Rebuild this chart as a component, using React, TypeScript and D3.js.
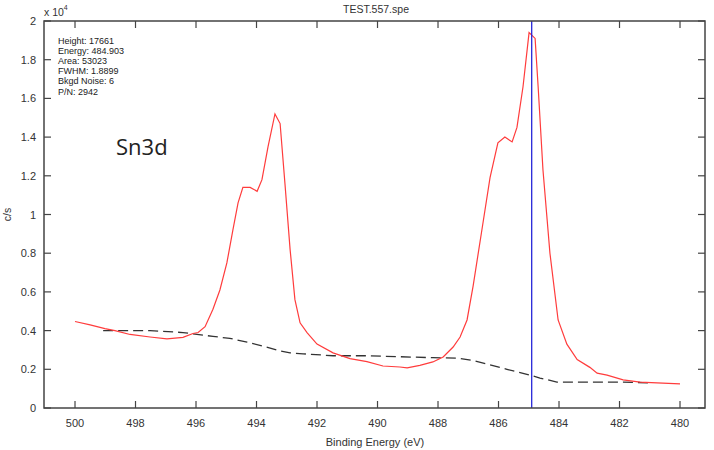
import React from "react";
import * as d3 from "d3";

const redEnergy = [500.0, 499.5, 499.01, 498.68, 498.18, 497.52, 496.96, 496.43, 496.1, 495.93, 495.7, 495.44, 495.21, 494.98, 494.78, 494.61, 494.45, 494.21, 493.98, 493.82, 493.62, 493.39, 493.22, 493.06, 492.89, 492.73, 492.56, 492.33, 492.0, 491.47, 490.91, 490.35, 489.82, 489.26, 489.02, 488.6, 488.17, 487.83, 487.5, 487.27, 487.04, 486.84, 486.55, 486.28, 486.02, 485.79, 485.55, 485.39, 485.19, 484.99, 484.79, 484.69, 484.53, 484.3, 484.03, 483.74, 483.4, 482.98, 482.74, 482.41, 481.88, 481.32, 480.76, 480.0];
const redCounts = [4470, 4300, 4100, 4000, 3800, 3670, 3570, 3650, 3850, 3900, 4200, 5100, 6100, 7500, 9200, 10600, 11400, 11400, 11200, 11800, 13500, 15200, 14700, 11600, 8200, 5600, 4400, 3900, 3300, 2850, 2550, 2400, 2170, 2120, 2070, 2200, 2380, 2640, 3150, 3670, 4550, 6300, 9200, 11900, 13700, 14000, 13750, 14500, 16600, 19400, 19100, 16600, 12300, 8000, 4550, 3300, 2500, 2100, 1800, 1700, 1450, 1340, 1300, 1250];

const bgEnergy = [499.07, 497.52, 496.43, 495.44, 494.88, 494.31, 493.79, 493.22, 492.89, 492.46, 491.47, 490.35, 489.26, 488.17, 487.37, 486.84, 485.72, 484.96, 484.63, 484.07, 482.98, 481.88, 480.99];
const bgCounts = [4000, 4000, 3900, 3700, 3600, 3400, 3200, 2950, 2850, 2800, 2700, 2700, 2650, 2600, 2580, 2450, 2000, 1700, 1550, 1340, 1340, 1340, 1300];

const xTicks = [500, 498, 496, 494, 492, 490, 488, 486, 484, 482, 480];
const yTicks = [0, 2000, 4000, 6000, 8000, 10000, 12000, 14000, 16000, 18000, 20000];
const yTickLabels = ["0", "0.2", "0.4", "0.6", "0.8", "1", "1.2", "1.4", "1.6", "1.8", "2"];

const markerEnergy = 484.903;
const infoLines = ["Height: 17661", "Energy: 484.903", "Area: 53023", "FWHM: 1.8899", "Bkgd Noise: 6", "P/N: 2942"];
const title = "TEST.557.spe";
const xLabel = "Binding Energy (eV)";
const yLabel = "c/s";
const peakLabel = "Sn3d";

export default function App() {
  const W = 714, H = 450;
  const left = 44, right = 705, top = 21, bottom = 408;
  const x = d3.scaleLinear().domain([501.025, 479.174]).range([left, right]);
  const y = d3.scaleLinear().domain([0, 20000]).range([bottom, top]);
  const line = d3.line<[number, number]>().x(d => x(d[0])).y(d => y(d[1]));
  const red = line(redEnergy.map((e, i) => [e, redCounts[i]]))!;
  const bg = line(bgEnergy.map((e, i) => [e, bgCounts[i]]))!;
  const axisColor = "#444";
  const font = "'Liberation Sans', Arial, sans-serif";
  const tl = 7;
  return (
    <svg width={W} height={H} style={{ position: "fixed", left: 0, top: 0, background: "#fff" }} fontFamily={font}>
      <rect x={0} y={0} width={W} height={H} fill="#fff" />
      <path d={bg} fill="none" stroke="#333" strokeWidth={1.3} strokeDasharray="10,5" />
      <path d={red} fill="none" stroke="#ff3c3c" strokeWidth={1.2} />
      <line x1={x(markerEnergy)} x2={x(markerEnergy)} y1={top} y2={bottom} stroke="#2626d9" strokeWidth={1.3} />
      <rect x={left} y={top} width={right - left} height={bottom - top} fill="none" stroke={axisColor} strokeWidth={1.5} />
      {xTicks.map(t => (
        <g key={"x" + t}>
          <line x1={x(t)} x2={x(t)} y1={bottom} y2={bottom - tl} stroke={axisColor} strokeWidth={1.2} />
          <line x1={x(t)} x2={x(t)} y1={top} y2={top + tl} stroke={axisColor} strokeWidth={1.2} />
          <text x={x(t)} y={427} textAnchor="middle" fontSize={11} fill="#333">{t}</text>
        </g>
      ))}
      {yTicks.map((t, i) => (
        <g key={"y" + t}>
          <line x1={left} x2={left + tl} y1={y(t)} y2={y(t)} stroke={axisColor} strokeWidth={1.2} />
          <line x1={right} x2={right - tl} y1={y(t)} y2={y(t)} stroke={axisColor} strokeWidth={1.2} />
          <text x={36} y={y(t) + 4} textAnchor="end" fontSize={11} fill="#333">{yTickLabels[i]}</text>
        </g>
      ))}
      <text x={44} y={16} fontSize={10.5} fill="#333">x 10<tspan dy={-6} fontSize={7}>4</tspan></text>
      <text x={376} y={13} textAnchor="middle" fontSize={10.5} fill="#333">{title}</text>
      <text x={375} y={446} textAnchor="middle" fontSize={11} fill="#333">{xLabel}</text>
      <text transform={`translate(11,${(top + bottom) / 2}) rotate(-90)`} textAnchor="middle" fontSize={10.5} fill="#333">{yLabel}</text>
      {infoLines.map((s, i) => (
        <text key={s} x={58} y={44 + i * 10.1} fontSize={9} fill="#222">{s}</text>
      ))}
      <text x={116} y={155} fontSize={22} fontFamily="'Open Sans', 'Noto Sans', sans-serif" fill="#222">{peakLabel}</text>
    </svg>
  );
}
